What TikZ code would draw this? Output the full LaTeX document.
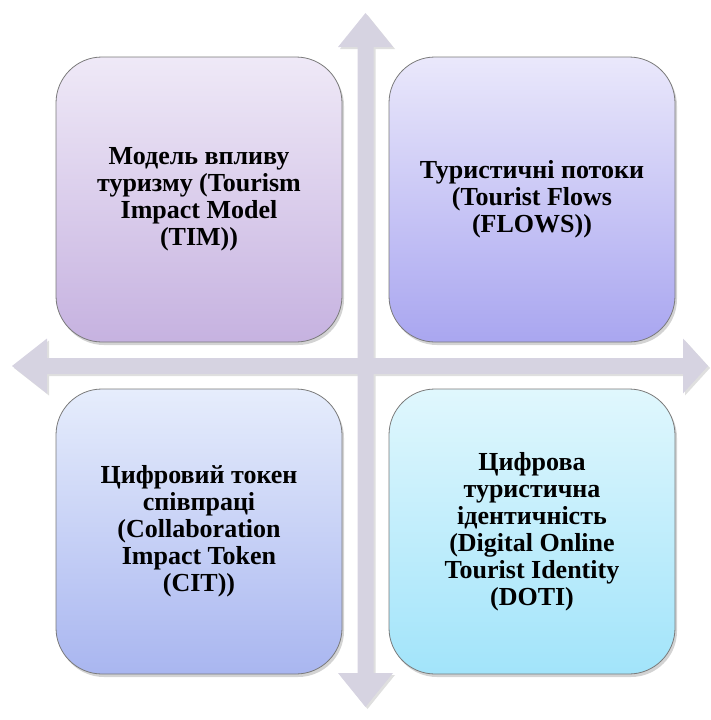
\documentclass[tikz,border=0pt]{standalone}
\usepackage{fontspec}
\setmainfont{Liberation Serif}
\usetikzlibrary{shadows}
\definecolor{arrowfill}{HTML}{D6D3E1}
\definecolor{boxline}{HTML}{7A7A7A}
\definecolor{tltop}{HTML}{EFE9F7}
\definecolor{tlbot}{HTML}{C6B2E0}
\definecolor{trtop}{HTML}{EAE8FB}
\definecolor{trbot}{HTML}{A9A6F0}
\definecolor{bltop}{HTML}{E6EDFC}
\definecolor{blbot}{HTML}{A9B6F0}
\definecolor{brtop}{HTML}{E0F7FD}
\definecolor{brbot}{HTML}{A2E4FA}
\begin{document}
\begin{tikzpicture}[x=1pt,y=-1pt,
  box/.style={draw=boxline, line width=0.8pt, rounded corners=46pt,
    minimum width=286pt, minimum height=285pt, inner sep=0pt, outer sep=0pt,
    drop shadow={opacity=0.35, shadow xshift=2pt, shadow yshift=-3pt}},
  lbl/.style={font=\bfseries\fontsize{26}{27}\selectfont, align=center, text=black, inner sep=0pt}]
\useasboundingbox (0,0) rectangle (710,720);
% cross of four arrows
\fill[arrowfill, drop shadow={opacity=0.25, shadow xshift=2pt, shadow yshift=-2pt}]
  (365.5,13) -- (393,47) -- (373.5,47) -- (373.5,358) -- (683,358) -- (683,338.5)
  -- (708,366) -- (683,393.5) -- (683,374) -- (373.5,374) -- (373.5,673)
  -- (393,673) -- (365.5,707) -- (338,673) -- (357.5,673) -- (357.5,374)
  -- (47,374) -- (47,393.5) -- (12,366) -- (47,338.5) -- (47,358)
  -- (357.5,358) -- (357.5,47) -- (338,47) -- cycle;
% boxes
\node[box, top color=tltop, bottom color=tlbot] (tim) at (199,199.5) {};
\node[box, top color=trtop, bottom color=trbot] (flows) at (532,199.5) {};
\node[box, top color=bltop, bottom color=blbot] (cit) at (199,531.5) {};
\node[box, top color=brtop, bottom color=brbot] (doti) at (532,531.5) {};
% labels
\node[lbl] (timtext) at (tim.center) {Модель впливу\\туризму (Tourism\\Impact Model\\(TIM))};
\node[lbl] (flowstext) at (flows.center) {Туристичні потоки\\(Tourist Flows\\(FLOWS))};
\node[lbl] (cittext) at (cit.center) {Цифровий токен\\співпраці\\(Collaboration\\Impact Token\\(CIT))};
\node[lbl] (dotitext) at (doti.center) {Цифрова\\туристична\\ідентичність\\(Digital Online\\Tourist Identity\\(DOTI)};
\end{tikzpicture}
\end{document}
